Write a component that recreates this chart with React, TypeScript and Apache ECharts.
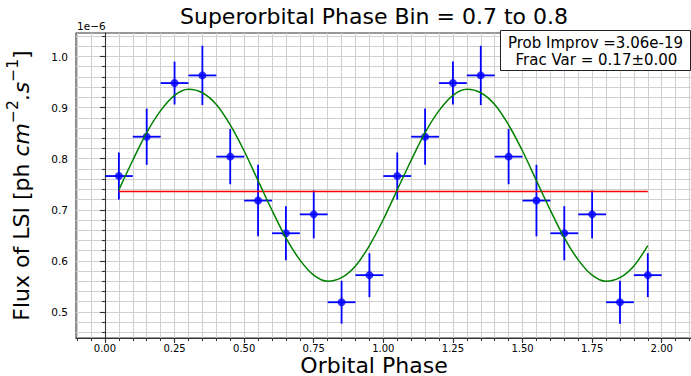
import React, { useEffect, useRef } from "react";
import * as echarts from "echarts";

const FONT = "DejaVu Sans";

// Orbital phase bin centres (two cycles shown)
const phases = [0.05, 0.15, 0.25, 0.35, 0.45, 0.55, 0.65, 0.75, 0.85, 0.95,
  1.05, 1.15, 1.25, 1.35, 1.45, 1.55, 1.65, 1.75, 1.85, 1.95];
// Half bin widths (x error)
const phaseErr = [0.05, 0.05, 0.05, 0.05, 0.05, 0.05, 0.05, 0.05, 0.05, 0.05,
  0.05, 0.05, 0.05, 0.05, 0.05, 0.05, 0.05, 0.05, 0.05, 0.05];
// Flux (units of 1e-6 ph cm^-2 s^-1)
const flux = [0.766, 0.843, 0.948, 0.963, 0.804, 0.718, 0.654, 0.691, 0.519, 0.572,
  0.766, 0.843, 0.948, 0.963, 0.804, 0.718, 0.654, 0.691, 0.519, 0.572];
const fluxErr = [0.046, 0.055, 0.042, 0.058, 0.054, 0.070, 0.053, 0.047, 0.042, 0.043,
  0.046, 0.055, 0.042, 0.058, 0.054, 0.070, 0.053, 0.047, 0.042, 0.043];

// Constant model
const constPhases = [0.05, 1.95];
const constFlux = [0.736, 0.736];

// Sinusoidal fit
const fitPhases = [0.05, 0.10, 0.15, 0.20, 0.25, 0.30, 0.35, 0.40, 0.45, 0.50,
  0.55, 0.60, 0.65, 0.70, 0.75, 0.80, 0.85, 0.90, 0.95, 1.00,
  1.05, 1.10, 1.15, 1.20, 1.25, 1.30, 1.35, 1.40, 1.45, 1.50,
  1.55, 1.60, 1.65, 1.70, 1.75, 1.80, 1.85, 1.90, 1.95];
const fitFlux = [0.739, 0.797, 0.851, 0.894, 0.924, 0.936, 0.929, 0.906, 0.866, 0.815,
  0.757, 0.699, 0.645, 0.602, 0.572, 0.560, 0.567, 0.590, 0.630, 0.681,
  0.739, 0.797, 0.851, 0.894, 0.924, 0.936, 0.929, 0.906, 0.866, 0.815,
  0.757, 0.699, 0.645, 0.602, 0.572, 0.560, 0.567, 0.590, 0.630];

// Ticks
const xMajorTicks = [0, 0.25, 0.5, 0.75, 1.0, 1.25, 1.5, 1.75, 2.0];
const xMinorTicks = [-0.1, -0.05, 0, 0.05, 0.1, 0.15, 0.2, 0.25, 0.3, 0.35, 0.4, 0.45, 0.5,
  0.55, 0.6, 0.65, 0.7, 0.75, 0.8, 0.85, 0.9, 0.95, 1.0, 1.05, 1.1, 1.15, 1.2, 1.25, 1.3,
  1.35, 1.4, 1.45, 1.5, 1.55, 1.6, 1.65, 1.7, 1.75, 1.8, 1.85, 1.9, 1.95, 2.0, 2.05, 2.1, 2.15];
const yMajorTicks = [0.5, 0.6, 0.7, 0.8, 0.9, 1.0];
const yMinorTicks = [0.46, 0.48, 0.5, 0.52, 0.54, 0.56, 0.58, 0.6, 0.62, 0.64, 0.66, 0.68,
  0.7, 0.72, 0.74, 0.76, 0.78, 0.8, 0.82, 0.84, 0.86, 0.88, 0.9, 0.92, 0.94, 0.96, 0.98,
  1.0, 1.02, 1.04];

const X_MIN = -0.104;
const X_MAX = 2.2;
const Y_MIN = 0.449;
const Y_MAX = 1.046;

const titleText = "Superorbital Phase Bin = 0.7 to 0.8";
const xLabelText = "Orbital Phase";
const offsetText = "1e\u22126";
const boxLines = ["Prob Improv =3.06e-19", "Frac Var = 0.17\u00b10.00"];

export default function App() {
  const ref = useRef<HTMLDivElement>(null);
  useEffect(() => {
    if (!ref.current) return;
    const chart = echarts.init(ref.current, null, { renderer: "svg" });
    const spine = { color: "#333", width: 1.1 };
    const gridLine = { color: "#cfcfcf", width: 1 };
    const option: any = {
      animation: false,
      backgroundColor: "#ffffff",
      grid: {
        left: 76, top: 33, width: 641.4, bottom: 38,
        show: true, borderColor: "#333", borderWidth: 1.1, backgroundColor: "transparent",
        containLabel: false,
      },
      xAxis: [
        {
          type: "value", position: "bottom", min: X_MIN, max: X_MAX,
          axisLine: { show: true, lineStyle: spine },
          axisTick: { show: true, length: 5, lineStyle: spine, customValues: xMajorTicks },
          axisLabel: {
            customValues: xMajorTicks, formatter: (v: number) => v.toFixed(2),
            color: "#000", fontSize: 10, fontFamily: FONT, margin: 5,
          },
          splitLine: { show: false },
        },
        {
          type: "value", position: "bottom", min: X_MIN, max: X_MAX,
          axisLine: { show: false },
          axisTick: { show: true, length: 3, lineStyle: spine, customValues: xMinorTicks },
          axisLabel: { show: false },
          splitLine: { show: true, lineStyle: gridLine },
        },
      ],
      yAxis: [
        {
          type: "value", position: "left", min: Y_MIN, max: Y_MAX,
          axisLine: { show: true, lineStyle: spine },
          axisTick: { show: true, length: 5, lineStyle: spine, customValues: yMajorTicks },
          axisLabel: {
            customValues: yMajorTicks, formatter: (v: number) => v.toFixed(1),
            color: "#000", fontSize: 10.5, fontFamily: FONT, margin: 8,
          },
          splitLine: { show: false },
        },
        {
          type: "value", position: "left", min: Y_MIN, max: Y_MAX,
          axisLine: { show: false },
          axisTick: { show: true, length: 3, lineStyle: spine, customValues: yMinorTicks },
          axisLabel: { show: false },
          splitLine: { show: true, lineStyle: gridLine },
        },
      ],
      series: [
        {
          type: "custom",
          xAxisIndex: 0, yAxisIndex: 0,
          z: 2,
          encode: { x: 0, y: 1 },
          data: phases.map((p, i) => [p, flux[i], phaseErr[i], fluxErr[i]]),
          renderItem: (params: any, api: any) => {
            const x = api.value(0), y = api.value(1), ex = api.value(2), ey = api.value(3);
            const l = api.coord([x - ex, y]);
            const r = api.coord([x + ex, y]);
            const t = api.coord([x, y + ey]);
            const b = api.coord([x, y - ey]);
            const st = { stroke: "#0000ff", lineWidth: 1.8 };
            return {
              type: "group",
              children: [
                { type: "line", shape: { x1: l[0], y1: l[1], x2: r[0], y2: r[1] }, style: st },
                { type: "line", shape: { x1: t[0], y1: t[1], x2: b[0], y2: b[1] }, style: st },
              ],
            };
          },
        },
        {
          type: "scatter",
          xAxisIndex: 0, yAxisIndex: 0,
          z: 3,
          symbol: "circle", symbolSize: 8,
          itemStyle: { color: "#0000ff" },
          data: phases.map((p, i) => [p, flux[i]]),
        },
        {
          type: "line",
          xAxisIndex: 0, yAxisIndex: 0,
          z: 4,
          showSymbol: false, symbol: "none",
          lineStyle: { color: "#ff0000", width: 1.5 },
          data: constPhases.map((p, i) => [p, constFlux[i]]),
        },
        {
          type: "line",
          xAxisIndex: 0, yAxisIndex: 0,
          z: 4,
          showSymbol: false, symbol: "none", smooth: 0.3,
          lineStyle: { color: "#008000", width: 1.5 },
          data: fitPhases.map((p, i) => [p, fitFlux[i]]),
        },
      ],
      graphic: [
        {
          type: "text", x: 374, y: 16.5, z: 100,
          style: { text: titleText, font: `22px '${FONT}'`, fill: "#000", align: "center", verticalAlign: "middle" },
        },
        {
          type: "text", x: 374, y: 365, z: 100,
          style: { text: xLabelText, font: `22px '${FONT}'`, fill: "#000", align: "center", verticalAlign: "middle" },
        },
        {
          type: "text", x: 77, y: 26, z: 100,
          style: { text: offsetText, font: `10.5px '${FONT}'`, fill: "#000", align: "left", verticalAlign: "middle" },
        },
        {
          type: "text", x: 21, y: 185.5, rotation: Math.PI / 2, z: 100,
          style: {
            text: "{n|Flux of LSI [ph }{i|cm}{s|\u22122}{i|.s}{s|\u22121}{n|]}",
            align: "center", verticalAlign: "middle",
            rich: {
              n: { fontSize: 22, fontFamily: FONT, fill: "#000", lineHeight: 32 },
              i: { fontSize: 22, fontFamily: FONT, fontStyle: "italic", fill: "#000", lineHeight: 32 },
              s: { fontSize: 15.5, fontFamily: FONT, fill: "#000", verticalAlign: "top", lineHeight: 32 },
            },
          },
        },
        {
          type: "rect", z: 200, zlevel: 0,
          shape: { x: 500.5, y: 30.5, width: 190, height: 40 },
          style: { fill: "#ffffff", stroke: "#222", lineWidth: 1 },
        },
        {
          type: "text", x: 595.5, y: 43, z: 201,
          style: { text: boxLines[0], font: `15px '${FONT}'`, fill: "#000", align: "center", verticalAlign: "middle" },
        },
        {
          type: "text", x: 596.5, y: 59.5, z: 201,
          style: { text: boxLines[1], font: `15px '${FONT}'`, fill: "#000", align: "center", verticalAlign: "middle" },
        },
      ],
    };
    chart.setOption(option);
    return () => chart.dispose();
  }, []);
  return (
    <div style={{ position: "absolute", left: 0, top: 0, width: 691, height: 376, overflow: "hidden" }}>
      <div ref={ref} style={{ width: 720, height: 376 }} />
    </div>
  );
}
